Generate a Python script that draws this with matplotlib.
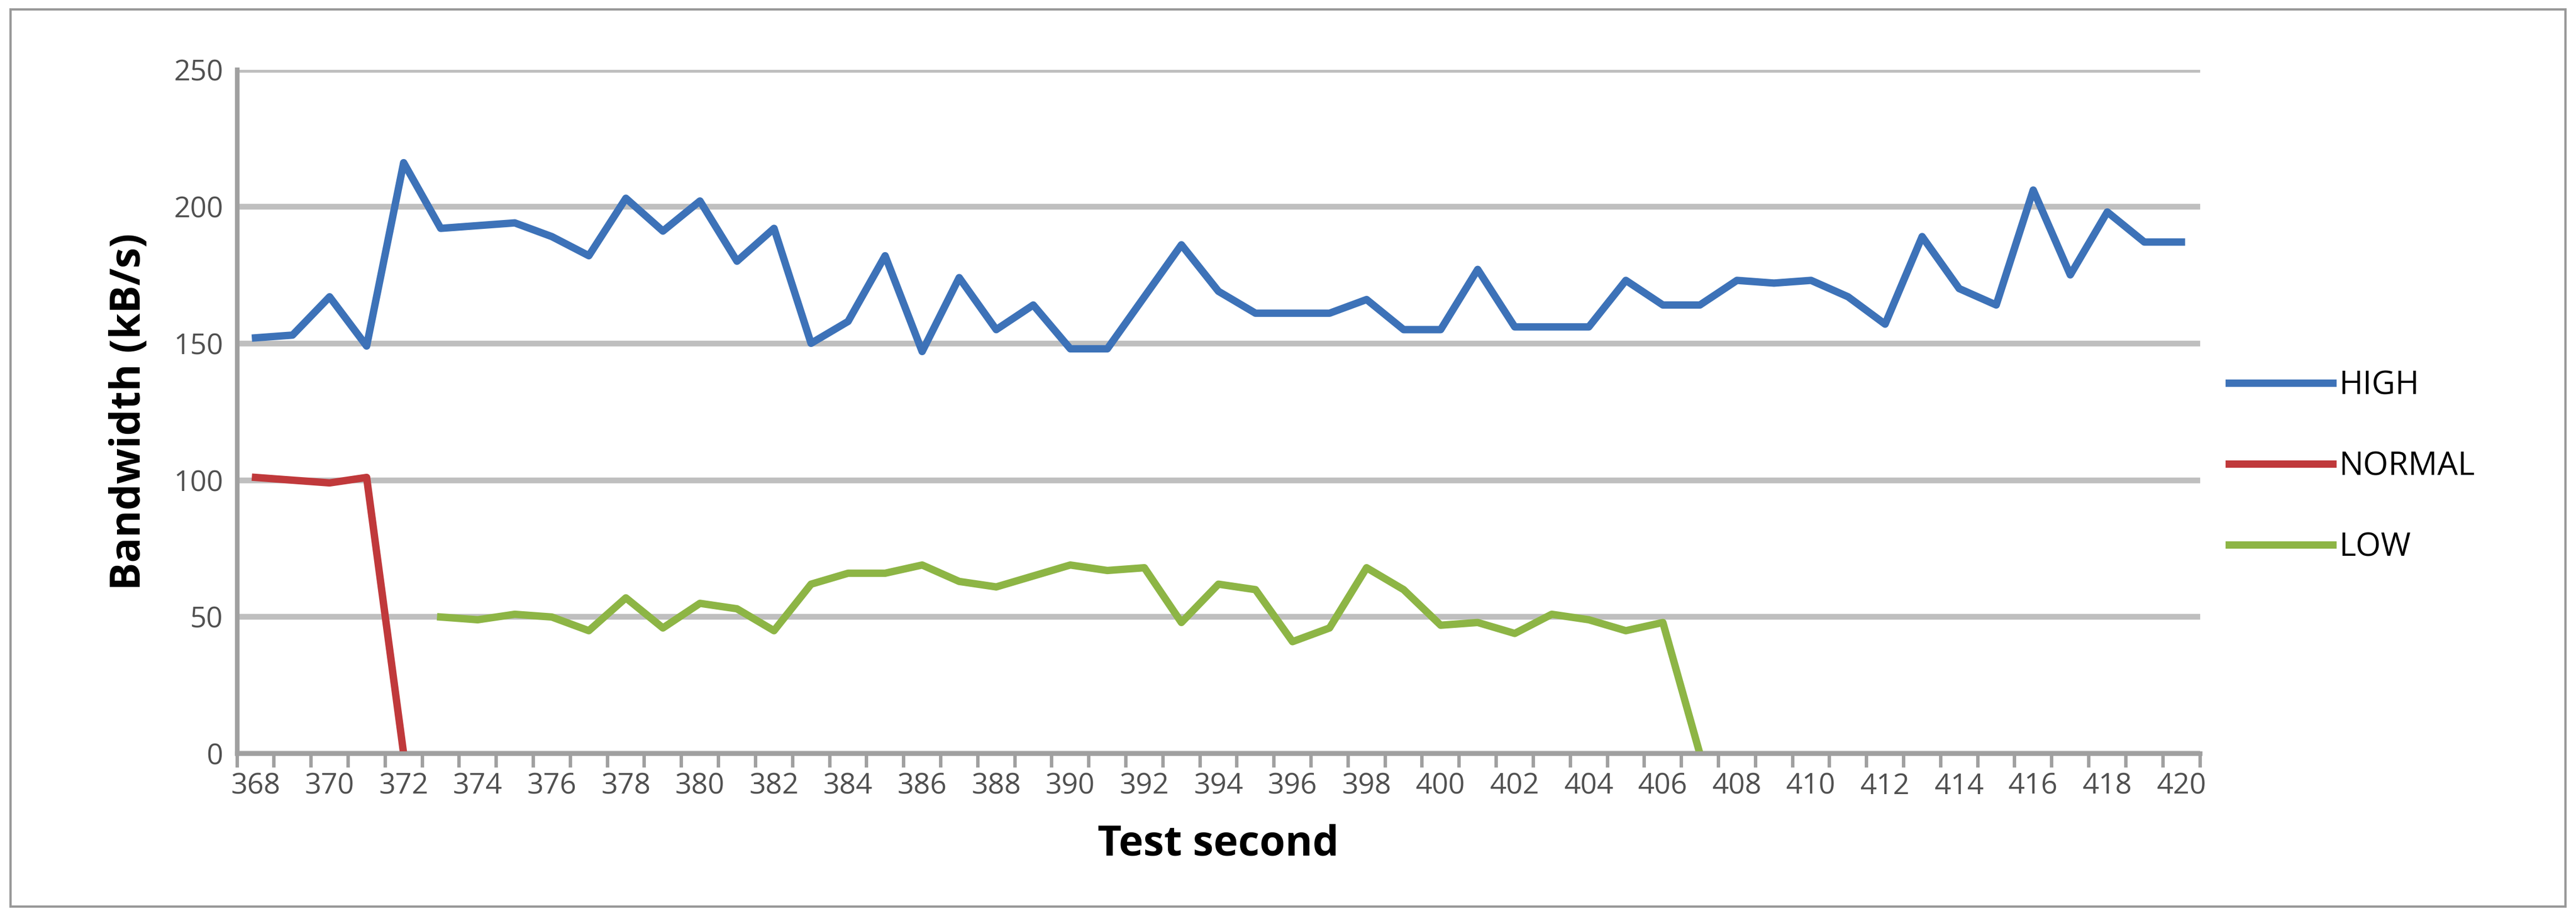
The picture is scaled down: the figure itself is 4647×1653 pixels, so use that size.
import matplotlib
matplotlib.use("Agg")
import matplotlib.pyplot as plt
import numpy as np
from matplotlib.patches import Rectangle

plt.rcParams['font.family'] = ['Open Sans', 'DejaVu Sans']

seconds = list(range(368, 421))
high = [152,153,167,149,216,192,193,194,189,182,203,191,202,180,192,150,158,182,147,174,
        155,164,148,148,167,186,169,161,161,161,166,155,155,177,156,156,156,173,164,164,
        173,172,173,167,157,189,170,164,206,175,198,187,187]
normal_x = [368,369,370,371,372]
normal = [101,100,99,101,0]
low_x = list(range(373, 408))
low = [50,49,51,50,45,57,46,55,53,45,62,66,66,69,63,61,65,69,67,68,48,62,60,41,46,68,60,
       47,48,44,51,49,45,48,0]
yticks = [0,50,100,150,200,250]

fig = plt.figure(figsize=(4647/300, 1653/300), dpi=300)
fig.patches.append(Rectangle((0.004,0.01),0.992,0.98,transform=fig.transFigure,
                             fill=False,edgecolor='#999999',lw=1))
ax = fig.add_axes([0.092,0.177,0.762,0.747])
ax.plot(seconds, high, color='#3d72b8', lw=3.2, label='HIGH')
ax.plot(normal_x, normal, color='#c0393b', lw=3.2, label='NORMAL')
ax.plot(low_x, low, color='#8db545', lw=3.2, label='LOW')
ax.set_xlim(367.5, 420.5)
ax.set_ylim(0, 250)
ax.set_yticks(yticks)
ax.yaxis.grid(True, color='#bfbfbf', lw=2.5)
ax.set_axisbelow(True)
ax.set_xticks(seconds[::2])
ax.set_xticks(np.arange(367.5, 421, 1), minor=True)
ax.tick_params(axis='x', which='major', length=0, labelsize=12.5, colors='#505050', pad=8)
ax.tick_params(axis='x', which='minor', length=6, width=1.5, color='#a0a0a0')
ax.tick_params(axis='y', length=0, labelsize=12.5, colors='#505050', pad=6)
for s in ['top','right']:
    ax.spines[s].set_visible(False)
ax.spines['left'].set_color('#a0a0a0'); ax.spines['left'].set_linewidth(2)
ax.spines['bottom'].set_color('#a0a0a0'); ax.spines['bottom'].set_linewidth(2)
ax.set_xlabel('Test second', fontsize=18, fontweight='bold', labelpad=10)
ax.set_ylabel('Bandwidth (kB/s)', fontsize=18, fontweight='bold', labelpad=10)
ax.legend(loc='center left', bbox_to_anchor=(1.0, 0.42), frameon=False, fontsize=14,
          handlelength=3.2, labelspacing=1.5, handletextpad=0.2)
fig.savefig('out.png', dpi=300)
